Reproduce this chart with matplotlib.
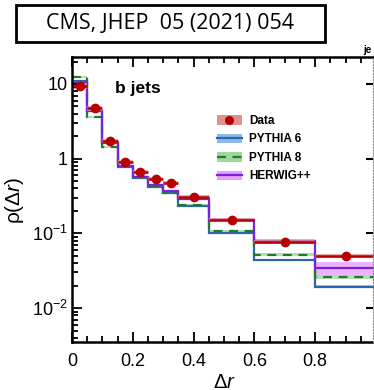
import matplotlib
matplotlib.use("Agg")
import matplotlib.pyplot as plt
import numpy as np
from matplotlib.lines import Line2D
from matplotlib.patches import Patch, Rectangle
from matplotlib.ticker import FixedLocator, FixedFormatter, LogLocator, NullFormatter

plt.rcParams["font.family"] = ["Liberation Sans", "DejaVu Sans"]
plt.rcParams["mathtext.fontset"] = "custom"
plt.rcParams["mathtext.rm"] = "Liberation Sans"
plt.rcParams["mathtext.it"] = "Liberation Sans:italic"

# bins in delta r
edges = [0, 0.05, 0.1, 0.15, 0.2, 0.25, 0.3, 0.35, 0.45, 0.6, 0.8, 1.0]

data = [9.4, 4.7, 1.73, 0.90, 0.67, 0.54, 0.47, 0.31, 0.152, 0.077, 0.050]
data_unc = [0.10, 0.07, 0.06, 0.06, 0.06, 0.06, 0.06, 0.05, 0.05, 0.05, 0.05]

pythia6 = [11.0, 4.3, 1.60, 0.78, 0.56, 0.42, 0.35, 0.235, 0.100, 0.044, 0.0193]
pythia6_unc = [0.03, 0.03, 0.03, 0.03, 0.03, 0.03, 0.03, 0.03, 0.03, 0.04, 0.05]

pythia8 = [12.4, 3.6, 1.44, 0.79, 0.57, 0.43, 0.35, 0.238, 0.108, 0.052, 0.0262]
pythia8_unc = [0.03, 0.03, 0.03, 0.03, 0.03, 0.03, 0.03, 0.03, 0.04, 0.05, 0.06]

herwig = [10.3, 4.4, 1.63, 0.80, 0.57, 0.44, 0.37, 0.29, 0.153, 0.078, 0.0345]
herwig_unc = [0.04, 0.03, 0.03, 0.03, 0.03, 0.03, 0.03, 0.04, 0.05, 0.07, 0.20]

xticks = [0, 0.2, 0.4, 0.6, 0.8]
xticklabels = ["0", "0.2", "0.4", "0.6", "0.8"]
yticks = [0.01, 0.1, 1, 10]
yticklabels = [r"$\mathregular{10^{-2}}$", r"$\mathregular{10^{-1}}$", "1", "10"]

styles = {
    "PYTHIA 6": dict(line="#2a68ad", band="#8db8e8", ls="-"),
    "PYTHIA 8": dict(line="#24782a", band="#9fd89f", ls=(0, (4, 3))),
    "HERWIG++": dict(line="#7a22d8", band="#e8a0ff", ls="-"),
}
data_line = "#b80000"
data_band = "#e39090"

W, H = 374, 390
fig = plt.figure(figsize=(W / 100, H / 100), dpi=100)
ax = fig.add_axes([72 / W, 48 / H, 304 / W, 285 / H])

e = np.array(edges)
for name, vals, unc in [("PYTHIA 6", pythia6, pythia6_unc),
                        ("PYTHIA 8", pythia8, pythia8_unc),
                        ("HERWIG++", herwig, herwig_unc)]:
    v = np.array(vals)
    u = np.array(unc)
    st = styles[name]
    ax.stairs(v * (1 + u), e, baseline=v * (1 - u), fill=True, color=st["band"], alpha=0.8, lw=0)

for name, vals in [("PYTHIA 6", pythia6), ("PYTHIA 8", pythia8), ("HERWIG++", herwig)]:
    st = styles[name]
    ax.stairs(vals, e, color=st["line"], lw=1.6, ls=st["ls"], baseline=None)

d = np.array(data)
du = np.array(data_unc)
ax.stairs(d * (1 + du), e, baseline=d * (1 - du), fill=True, color=data_band, alpha=0.75, lw=0)
ax.hlines(d, e[:-1], e[1:], color=data_line, lw=1.8)
centers = (e[:-1] + e[1:]) / 2
ax.plot(centers, d, "o", color=data_line, ms=6, zorder=5)

ax.set_yscale("log")
ax.set_xlim(0, 1.0)
ax.set_ylim(0.003517, 22.98)

ax.xaxis.set_major_locator(FixedLocator(xticks))
ax.xaxis.set_major_formatter(FixedFormatter(xticklabels))
ax.xaxis.set_minor_locator(FixedLocator(np.arange(0, 1.0001, 0.05)))
ax.yaxis.set_major_locator(FixedLocator(yticks))
ax.yaxis.set_major_formatter(FixedFormatter(yticklabels))
ax.yaxis.set_minor_locator(LogLocator(base=10, subs=np.arange(2, 10)))
ax.yaxis.set_minor_formatter(NullFormatter())
ax.tick_params(which="both", direction="in", top=True, right=False, width=1.3)
ax.tick_params(which="major", length=7, labelsize=13)
ax.tick_params(which="minor", length=4)
ax.tick_params(axis="x", pad=8)
ax.tick_params(axis="y", pad=3)
for s in ax.spines.values():
    s.set_linewidth(1.8)

# edge of the neighbouring panel
ax2 = fig.add_axes([373 / W, 48 / H, 0.2, 285 / H])
ax2.set_yscale("log")
ax2.set_ylim(0.003517, 22.98)
ax2.patch.set_visible(False)
for k in ["top", "right", "bottom"]:
    ax2.spines[k].set_visible(False)
ax2.spines["left"].set_linestyle(":")
ax2.spines["left"].set_color("#888888")
ax2.set_xticks([])
ax2.yaxis.set_major_locator(FixedLocator(yticks))
ax2.yaxis.set_minor_locator(FixedLocator([]))
ax2.tick_params(axis="y", direction="out", length=5, width=1.5, labelleft=False)

fig.text(15 / W, 1 - 200 / H, r"ρ(Δ$r$)", rotation=90, ha="center", va="center", fontsize=15)
fig.text(224 / W, 1 - 382 / H, r"Δ$r$", ha="center", va="center", fontsize=14.5)
fig.text(115 / W, 1 - 89 / H, "b jets", ha="left", va="center", fontsize=12.5, fontweight="bold")

handles = [
    (Patch(facecolor=data_band, edgecolor="none"),
     Line2D([], [], color=data_line, marker="o", ms=5.5, ls="none")),
]
for name in ["PYTHIA 6", "PYTHIA 8", "HERWIG++"]:
    st = styles[name]
    handles.append((Patch(facecolor=st["band"], edgecolor="none"),
                    Line2D([], [], color=st["line"], lw=1.6, ls=st["ls"])))
labels = ["Data", "PYTHIA 6", "PYTHIA 8", "HERWIG++"]
fig.legend(handles, labels, loc="upper left", bbox_to_anchor=(217 / W, 1 - 115 / H),
           frameon=False, borderpad=0, borderaxespad=0, handlelength=2.1, handleheight=0.9,
           handletextpad=0.6, labelspacing=0.55, prop={"weight": "bold", "size": 8.5})

# citation box on top
fig.patches.append(Rectangle((16 / W, 1 - 42 / H), 309 / W, 37 / H, transform=fig.transFigure,
                             fill=False, ec="black", lw=2))
fig.text(170.5 / W, 1 - 23.5 / H, "CMS, JHEP  05 (2021) 054", ha="center", va="center",
         fontsize=15.5, family=["Open Sans", "DejaVu Sans"])
fig.text(363 / W, 1 - 50 / H, "je", ha="left", va="center", fontsize=7, fontweight="bold")

fig.savefig("out.png", dpi=100)
